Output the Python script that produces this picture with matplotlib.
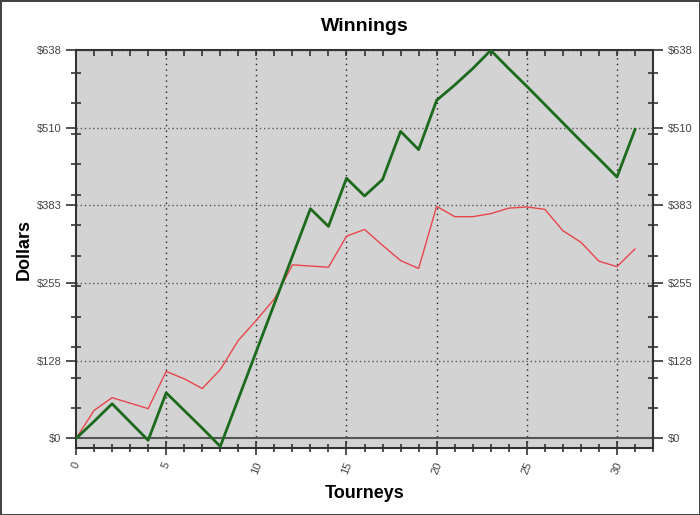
import numpy as np
import matplotlib.pyplot as plt
from matplotlib.ticker import MultipleLocator, FixedLocator

plt.rcParams['font.family'] = ['Liberation Sans', 'DejaVu Sans']

# Data
tourneys = list(range(0, 32))
winnings = [0, 28, 57, 27, -3, 75, 46, 17, -13, 65, 143, 221, 299, 377, 348, 427,
            398, 425, 504, 474, 555, 580, 607, 637, 607, 578, 548, 518, 488, 459, 429, 507]
average = [0, 46, 67, 58, 49, 110, 98, 82, 113, 161, 194, 229, 285, 283, 281, 332,
           343, 317, 292, 279, 381, 364, 364, 369, 378, 380, 376, 341, 322, 291, 282, 311]

y_ticks = [0, 127.5, 255, 382.5, 510, 637.5]
y_labels = ['$0', '$128', '$255', '$383', '$510', '$638']
x_ticks = [0, 5, 10, 15, 20, 25, 30]

fig = plt.figure(figsize=(7, 5.15), dpi=100, edgecolor='#444444', linewidth=2)
ax = fig.add_axes([0.1086, 0.1301, 0.8243, 0.7728])
ax.set_facecolor('#d3d3d3')

# grid and zero line
for t in y_ticks[1:]:
    ax.axhline(t, color='#555555', lw=1, ls=(0, (1, 2)), zorder=1)
for t in x_ticks[1:]:
    ax.axvline(t, color='#222222', lw=1, ls=(0, (1, 3)), zorder=1)
ax.axhline(0, color='#555555', lw=1.5, zorder=2)

ax.plot(tourneys, average, color='#e8454a', lw=1, zorder=3)
ax.plot(tourneys, winnings, color='#1b6a1d', lw=2, zorder=4)

ax.set_xlim(0, 32)
ax.set_ylim(-15.6, 637.5)

ax.yaxis.set_major_locator(FixedLocator(y_ticks))
ax.set_yticklabels(y_labels)
ax.yaxis.set_minor_locator(MultipleLocator(50))
ax.xaxis.set_major_locator(FixedLocator(x_ticks))
ax.xaxis.set_minor_locator(MultipleLocator(1))

ax.tick_params(axis='y', which='major', direction='out', length=7, width=1.2,
               colors='#333333', labelsize=8, labelcolor='#444444',
               left=True, right=True, labelright=True)
ax.tick_params(axis='y', which='minor', direction='inout', length=7, width=1.2,
               colors='#333333', left=True, right=True)
ax.tick_params(axis='x', which='major', direction='inout', length=10, width=1.2,
               colors='#333333', labelsize=8, labelcolor='#444444',
               labelrotation=68, pad=4)
ax.tick_params(axis='x', which='minor', direction='inout', length=6, width=1.2,
               colors='#333333')

# top axis: short ticks pointing inward only
top = ax.secondary_xaxis('top')
top.xaxis.set_major_locator(FixedLocator(x_ticks))
top.xaxis.set_minor_locator(MultipleLocator(1))
top.tick_params(which='both', direction='in', length=4, width=1.2,
                colors='#333333', labeltop=False)
top.spines['top'].set_visible(False)

for s in ax.spines.values():
    s.set_color('#333333')
    s.set_linewidth(1.5)

ax.set_title('Winnings', fontsize=14, fontweight='bold', pad=14)
ax.set_xlabel('Tourneys', fontsize=13, fontweight='bold')
ax.set_ylabel('Dollars', fontsize=13, fontweight='bold')
ax.xaxis.set_label_coords(0.5, -0.092)
ax.yaxis.set_label_coords(-0.075, 0.5)

fig.savefig('out.png', dpi=100, edgecolor=fig.get_edgecolor())
